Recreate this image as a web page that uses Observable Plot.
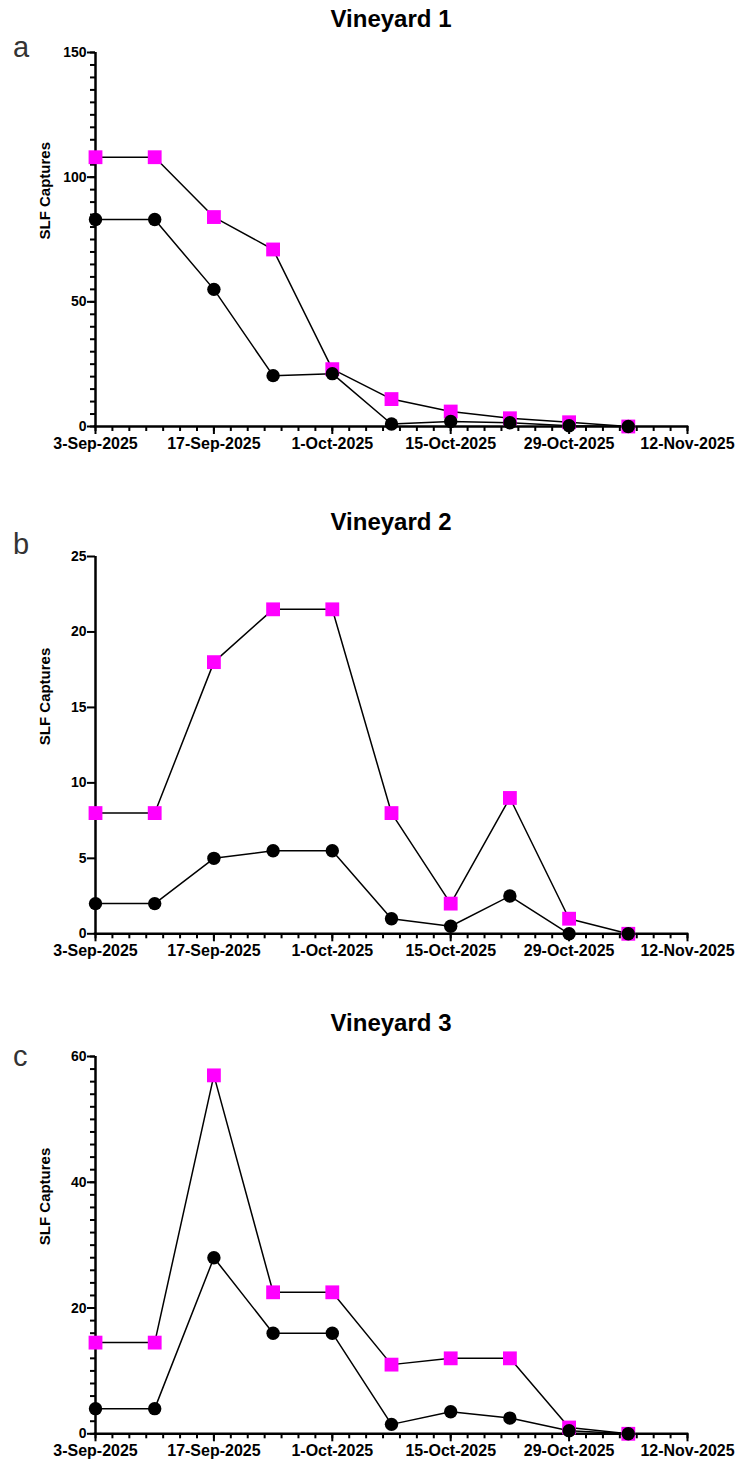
<!DOCTYPE html>
<html>
<head>
<meta charset="utf-8">
<script src="https://cdn.jsdelivr.net/npm/d3@7"></script>
<script src="https://cdn.jsdelivr.net/npm/@observablehq/plot@0.6"></script>
<style>
  html, body { margin: 0; padding: 0; background: #fff; }
  #root { position: relative; width: 735px; height: 1462px; font-family: "Liberation Sans", Arial, sans-serif; }
  .title { position: absolute; left: 95px; width: 592px; text-align: center; font-size: 24px; line-height: 24px; font-weight: bold; color: #000; }
  .letter { position: absolute; left: 13px; font-size: 29px; line-height: 29px; color: #333; }
</style>
</head>
<body>
<div id="root"></div>
<script>
// ---- data ----
const dates = ["2025-09-03","2025-09-10","2025-09-17","2025-09-24","2025-10-01","2025-10-08","2025-10-15","2025-10-22","2025-10-29","2025-11-05"];
const xTickLabels = ["2025-09-03","2025-09-17","2025-10-01","2025-10-15","2025-10-29","2025-11-12"];
const panelTitles = ["Vineyard 1","Vineyard 2","Vineyard 3"];
const panelLetters = ["a","b","c"];
const yLabel = "SLF Captures";

const v1Magenta = [108, 108, 84, 71, 23, 11, 6, 3.3, 1.7, 0];
const v1Black   = [83, 83, 55, 20.4, 21.2, 1, 2, 1.5, 0.3, 0];
const v2Magenta = [8, 8, 18, 21.5, 21.5, 8, 2, 9, 1, 0];
const v2Black   = [2, 2, 5, 5.5, 5.5, 1, 0.5, 2.5, 0, 0];
const v3Magenta = [14.5, 14.5, 57, 22.5, 22.5, 11, 12, 12, 1, 0];
const v3Black   = [4, 4, 28, 16, 16, 1.5, 3.5, 2.5, 0.5, 0];

const yMax = [150, 25, 60];
const yMajorTicks = [[0, 50, 100, 150], [0, 5, 10, 15, 20, 25], [0, 20, 40, 60]];
const yMinorStep = [5, null, 2];

// ---- drawing ----
const parse = d3.utcParse("%Y-%m-%d");
const fmt = d3.utcFormat("%-d-%b-%Y");
const xStart = parse(xTickLabels[0]);
const xEnd = parse(xTickLabels[xTickLabels.length - 1]);
const xMajor = xTickLabels.map(parse);
const xMinor = d3.utcDay.range(xStart, d3.utcDay.offset(xEnd, 1), 2);

const panels = [
  {m: v1Magenta, k: v1Black, plotTop: 52, plotBottom: 426, titleTop: 7, letterTop: 32.5},
  {m: v2Magenta, k: v2Black, plotTop: 555.7, plotBottom: 933, titleTop: 509.5, letterTop: 529.5},
  {m: v3Magenta, k: v3Black, plotTop: 1056, plotBottom: 1433.3, titleTop: 1010.5, letterTop: 1041.5}
];

const root = document.getElementById("root");
const mT = 10, mB = 40;

panels.forEach((p, i) => {
  const magenta = dates.map((d, j) => ({date: parse(d), value: p.m[j], series: "magenta"}));
  const black = dates.map((d, j) => ({date: parse(d), value: p.k[j], series: "black"}));
  const yMinor = yMinorStep[i] ? d3.range(0, yMax[i] + 1e-9, yMinorStep[i]) : [];
  const h = mT + (p.plotBottom - p.plotTop) + mB;

  const marks = [];
  if (yMinor.length) {
    marks.push(Plot.axisY(yMinor, {tickSize: 5, tickFormat: () => "", strokeWidth: 2, label: null}));
  }
  marks.push(
    Plot.axisY(yMajorTicks[i], {tickSize: 8, tickPadding: 1, fontSize: 14, fontWeight: "bold", strokeWidth: 2, label: null}),
    Plot.axisX(xMinor, {tickSize: 5, tickFormat: () => "", strokeWidth: 2, label: null}),
    Plot.axisX(xMajor, {tickSize: 8, tickPadding: 3, tickFormat: fmt, fontSize: 16, fontWeight: "bold", strokeWidth: 2, label: null}),
    Plot.ruleX([xStart], {stroke: "#000", strokeWidth: 2.5}),
    Plot.ruleY([0], {stroke: "#000", strokeWidth: 2.5, strokeLinecap: "square"}),
    Plot.text([yLabel], {frameAnchor: "left", rotate: -90, dx: -50, fontSize: 15, fontWeight: "bold", fill: "#000"}),
    Plot.line(magenta, {x: "date", y: "value", stroke: "#000", strokeWidth: 1.5}),
    Plot.line(black, {x: "date", y: "value", stroke: "#000", strokeWidth: 1.5}),
    Plot.dot(magenta, {x: "date", y: "value", symbol: "square", r: 7.8, fill: "#ff00ff", stroke: null}),
    Plot.dot(black, {x: "date", y: "value", symbol: "circle", r: 6.7, fill: "#000", stroke: null})
  );

  const svg = Plot.plot({
    width: 735,
    height: h,
    marginTop: mT,
    marginBottom: mB,
    marginLeft: 95,
    marginRight: 48,
    style: {fontFamily: "'Liberation Sans', Arial, sans-serif", color: "#000", background: "transparent", overflow: "visible"},
    x: {type: "utc", domain: [xStart, xEnd]},
    y: {domain: [0, yMax[i]]},
    marks
  });
  svg.style.position = "absolute";
  svg.style.left = "0px";
  svg.style.top = (p.plotTop - mT) + "px";
  root.appendChild(svg);

  const t = document.createElement("div");
  t.className = "title";
  t.style.top = p.titleTop + "px";
  t.textContent = panelTitles[i];
  root.appendChild(t);

  const l = document.createElement("div");
  l.className = "letter";
  l.style.top = p.letterTop + "px";
  l.textContent = panelLetters[i];
  root.appendChild(l);
});
</script>
</body>
</html>
